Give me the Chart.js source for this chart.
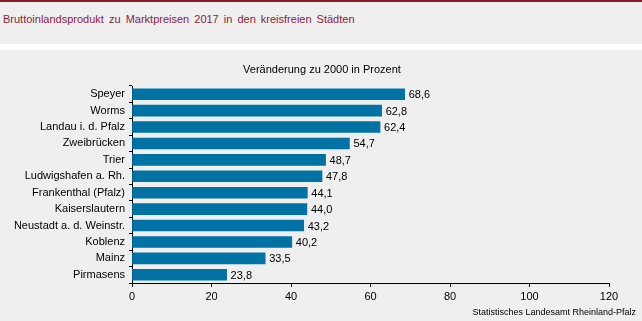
<!DOCTYPE html>
<html lang="de">
<head>
<meta charset="utf-8">
<title>Bruttoinlandsprodukt kreisfreie Städte</title>
<script src="https://cdn.jsdelivr.net/npm/chart.js@4/dist/chart.umd.min.js"></script>
<style>
  html, body {
    margin: 0;
    padding: 0;
    width: 642px;
    height: 321px;
    overflow: hidden;
    background: #eeefee;
    font-family: "Liberation Sans", Arial, sans-serif;
  }
  .topbar {
    position: absolute;
    left: 0; top: 0;
    width: 642px; height: 2px;
    background: #8b1a30;
  }
  .header {
    position: absolute;
    left: 3px; top: 13px;
    font-size: 11px;
    color: #8b1d3d;
    word-spacing: 2px;
  }
  .divider {
    position: absolute;
    left: 0; top: 44px;
    width: 642px; height: 6px;
    background: #ffffff;
  }
  .subtitle {
    position: absolute;
    left: 0; top: 63px;
    width: 644px;
    text-align: center;
    font-size: 11px;
    color: #000;
  }
  .chart-box {
    position: absolute;
    left: 0; top: 50px;
    width: 642px; height: 271px;
  }
  .source {
    position: absolute;
    right: 6px; top: 307px;
    font-size: 9px;
    color: #000;
  }
</style>
</head>
<body>
<div class="topbar"></div>
<div class="header">Bruttoinlandsprodukt zu Marktpreisen 2017 in den kreisfreien Städten</div>
<div class="divider"></div>
<div class="chart-box"><canvas id="bipChart" width="642" height="271"></canvas></div>
<div class="subtitle">Veränderung zu 2000 in Prozent</div>
<div class="source">Statistisches Landesamt Rheinland-Pfalz</div>

<script>
// Städte und Veränderung des BIP zu 2000 in Prozent
const staedte = [
    'Speyer', 'Worms', 'Landau i. d. Pfalz', 'Zweibrücken', 'Trier',
    'Ludwigshafen a. Rh.', 'Frankenthal (Pfalz)', 'Kaiserslautern',
    'Neustadt a. d. Weinstr.', 'Koblenz', 'Mainz', 'Pirmasens'
];
const veraenderung = [68.6, 62.8, 62.4, 54.7, 48.7, 47.8, 44.1, 44.0, 43.2, 40.2, 33.5, 23.8];
const xTicks = [0, 20, 40, 60, 80, 100, 120];

const balkenFarbe = '#0072a4';
const schrift = '"Liberation Sans", Arial, sans-serif';

// Werte mit Komma rechts neben die Balken schreiben
const wertLabels = {
    id: 'wertLabels',
    afterDatasetsDraw(chart) {
        const ctx = chart.ctx;
        const meta = chart.getDatasetMeta(0);
        ctx.save();
        ctx.font = '11px ' + schrift;
        ctx.fillStyle = '#000';
        ctx.textAlign = 'left';
        ctx.textBaseline = 'middle';
        meta.data.forEach((bar, i) => {
            const text = veraenderung[i].toFixed(1).replace('.', ',');
            ctx.fillText(text, bar.x + 4, bar.y + 1);
        });
        ctx.restore();
    }
};

Chart.defaults.font.family = schrift;
Chart.defaults.font.size = 11;
Chart.defaults.color = '#000';

new Chart(document.getElementById('bipChart').getContext('2d'), {
    type: 'bar',
    data: {
        labels: staedte,
        datasets: [{
            data: veraenderung,
            backgroundColor: balkenFarbe,
            borderWidth: 0,
            barThickness: 11
        }]
    },
    options: {
        indexAxis: 'y',
        responsive: false,
        animation: false,
        layout: {
            // Platz oben für die Überschrift der Achse
            padding: { top: 36, right: 33, bottom: 0, left: 0 }
        },
        scales: {
            x: {
                min: 0,
                max: 120,
                afterBuildTicks(scale) {
                    scale.ticks = xTicks.map(v => ({ value: v }));
                },
                afterFit(scale) {
                    scale.height = 38;
                },
                grid: {
                    drawOnChartArea: false,
                    drawTicks: true,
                    tickLength: 4,
                    color: '#000'
                },
                border: { display: true, color: '#000', width: 1 },
                ticks: { padding: 3, color: '#000', font: { size: 11 } }
            },
            y: {
                afterFit(scale) {
                    scale.width = 132;
                },
                grid: {
                    offset: true,
                    drawOnChartArea: false,
                    drawTicks: true,
                    tickLength: 3,
                    color: '#000'
                },
                border: { display: true, color: '#000', width: 1 },
                ticks: { padding: 4, color: '#000', font: { size: 11 } }
            }
        },
        plugins: {
            legend: { display: false },
            tooltip: { enabled: false },
            title: { display: false }
        }
    },
    plugins: [wertLabels]
});
</script>
</body>
</html>
